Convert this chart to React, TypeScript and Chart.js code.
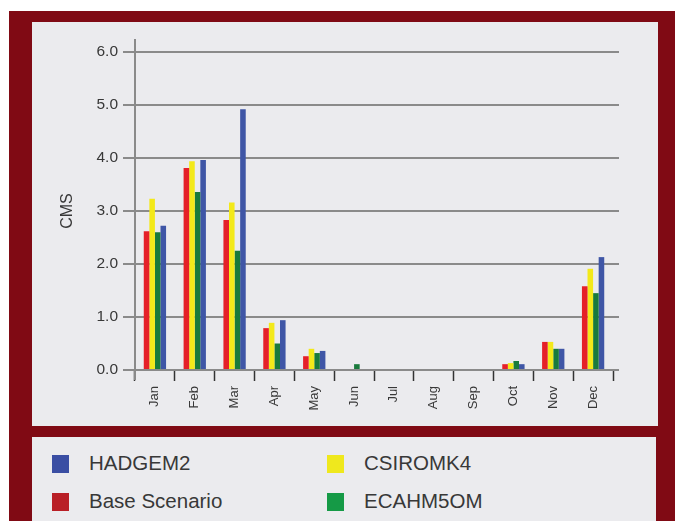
import React, { useEffect, useRef } from "react";
import { Chart, registerables } from "chart.js";

Chart.register(...registerables);

const months = ["Jan", "Feb", "Mar", "Apr", "May", "Jun", "Jul", "Aug", "Sep", "Oct", "Nov", "Dec"];
const baseScenario = [2.62, 3.81, 2.83, 0.79, 0.26, 0, 0, 0, 0, 0.11, 0.53, 1.58];
const csiromk4 = [3.23, 3.94, 3.16, 0.89, 0.4, 0, 0, 0, 0, 0.13, 0.53, 1.91];
const ecahm5om = [2.6, 3.36, 2.25, 0.5, 0.32, 0.11, 0, 0, 0, 0.17, 0.4, 1.45];
const hadgem2 = [2.72, 3.96, 4.92, 0.94, 0.36, 0, 0, 0, 0, 0.11, 0.4, 2.13];
const yTicks = [0, 1, 2, 3, 4, 5, 6];

const FONT = "'Liberation Sans', Arial, Helvetica, sans-serif";
const TEXT = "#383838";
const GRID = "#8a8a8a";

const legendItems = [
  { label: "HADGEM2", color: "#3a4ea3", col: 0, row: 0 },
  { label: "CSIROMK4", color: "#efe81d", col: 1, row: 0 },
  { label: "Base Scenario", color: "#b91f26", col: 0, row: 1 },
  { label: "ECAHM5OM", color: "#159a46", col: 1, row: 1 },
];

const extraLines = {
  id: "extraLines",
  afterDraw(chart: any) {
    const { ctx, chartArea, scales } = chart;
    const y = scales.y;
    ctx.save();
    ctx.strokeStyle = GRID;
    ctx.lineWidth = 2;
    yTicks.forEach((v) => {
      const py = y.getPixelForValue(v);
      ctx.beginPath();
      ctx.moveTo(chartArea.right, py);
      ctx.lineTo(chartArea.right + 6, py);
      ctx.stroke();
    });
    ctx.beginPath();
    ctx.moveTo(chartArea.left, chartArea.top - 13);
    ctx.lineTo(chartArea.left, chartArea.bottom + 10);
    ctx.stroke();
    ctx.restore();
  },
};

function BarChart() {
  const ref = useRef<HTMLCanvasElement | null>(null);
  useEffect(() => {
    if (!ref.current) return;
    const chart = new Chart(ref.current, {
      type: "bar",
      data: {
        labels: months,
        datasets: [
          { label: "Base Scenario", data: baseScenario, backgroundColor: "#e52028" },
          { label: "CSIROMK4", data: csiromk4, backgroundColor: "#f3e91a" },
          { label: "ECAHM5OM", data: ecahm5om, backgroundColor: "#197a3c" },
          { label: "HADGEM2", data: hadgem2, backgroundColor: "#3f56a6" },
        ],
      },
      options: {
        responsive: false,
        animation: false,
        datasets: { bar: { categoryPercentage: 0.56, barPercentage: 1 } },
        layout: { padding: { top: 30, right: 45, left: 0, bottom: 0 } },
        plugins: { legend: { display: false }, tooltip: { enabled: false } },
        scales: {
          x: {
            offset: true,
            border: { display: false },
            grid: {
              display: true,
              offset: true,
              drawOnChartArea: false,
              drawTicks: true,
              tickLength: 11,
              tickColor: "#333333",
              tickWidth: 1.5,
            },
            ticks: {
              autoSkip: false,
              minRotation: 90,
              maxRotation: 90,
              padding: 5,
              color: TEXT,
              font: { family: FONT, size: 13 },
            },
            afterFit: (scale: any) => {
              scale.height = 56;
            },
          },
          y: {
            min: 0,
            max: 6,
            border: { display: false },
            grid: {
              color: GRID,
              lineWidth: 2,
              tickLength: 12,
              tickColor: GRID,
              tickWidth: 2,
            },
            afterBuildTicks: (scale: any) => {
              scale.ticks = yTicks.map((v) => ({ value: v }));
            },
            ticks: {
              padding: 5,
              color: TEXT,
              font: { family: FONT, size: 15.5 },
              callback: (v: any) => Number(v).toFixed(1),
            },
            title: {
              display: true,
              text: "CMS",
              color: TEXT,
              font: { family: FONT, size: 16 },
              padding: { top: 26, bottom: 0 },
            },
            afterFit: (scale: any) => {
              scale.width = 103;
            },
          },
        },
      },
      plugins: [extraLines],
    });
    return () => chart.destroy();
  }, []);
  return <canvas ref={ref} width={626} height={404} style={{ display: "block" }} />;
}

export default function App() {
  return (
    <div
      style={{
        position: "absolute",
        left: 9,
        top: 11,
        width: 666,
        height: 510,
        background: "#800a14",
        overflow: "hidden",
      }}
    >
      <div
        style={{
          position: "absolute",
          left: 23,
          top: 11,
          width: 626,
          height: 404,
          background: "#ebebee",
        }}
      >
        <BarChart />
      </div>
      <div
        style={{
          position: "absolute",
          left: 23,
          top: 426,
          width: 624,
          height: 90,
          background: "#ebebee",
          fontFamily: FONT,
          color: TEXT,
        }}
      >
        {legendItems.map((it) => (
          <React.Fragment key={it.label}>
            <div
              style={{
                position: "absolute",
                left: 20 + it.col * 275,
                top: 18 + it.row * 38,
                width: 17,
                height: 18,
                background: it.color,
              }}
            />
            <div
              style={{
                position: "absolute",
                left: 57 + it.col * 275,
                top: 14 + it.row * 38,
                height: 24,
                lineHeight: "24px",
                fontSize: 20.5,
                whiteSpace: "nowrap",
              }}
            >
              {it.label}
            </div>
          </React.Fragment>
        ))}
      </div>
    </div>
  );
}
